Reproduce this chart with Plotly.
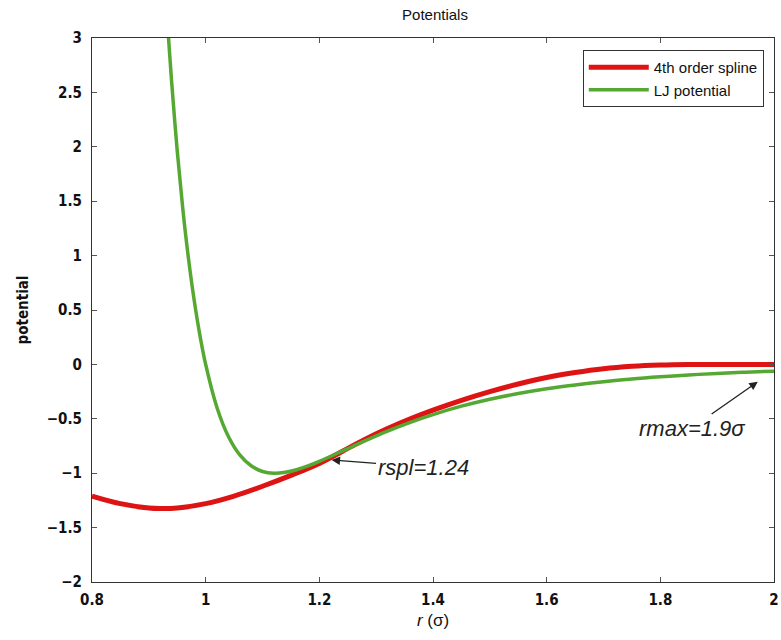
import plotly.graph_objects as go

# Lennard-Jones potential, sampled in reduced units (r in sigma, energy in epsilon)
r_lj = [0.93, 0.935, 0.94, 0.95, 0.96, 0.97, 0.98, 0.99, 1.00, 1.02, 1.04, 1.06,
        1.08, 1.10, 1.12, 1.14, 1.16, 1.18, 1.20, 1.24, 1.28, 1.32, 1.36, 1.40,
        1.45, 1.50, 1.55, 1.60, 1.65, 1.70, 1.75, 1.80, 1.85, 1.90, 1.95, 2.00]
u_lj = [3.373, 2.974, 2.607, 1.961, 1.418, 0.963, 0.582, 0.264, 0.000, -0.398,
        -0.663, -0.832, -0.932, -0.984, -1.000, -0.992, -0.968, -0.933, -0.891,
        -0.798, -0.703, -0.613, -0.532, -0.461, -0.384, -0.320, -0.268, -0.224,
        -0.189, -0.159, -0.134, -0.114, -0.097, -0.083, -0.072, -0.062]

# 4th order spline potential (joins LJ at r_spl, vanishes at r_max)
r_spl = [0.80, 0.85, 0.90, 0.92, 0.95, 1.00, 1.05, 1.10, 1.15, 1.20, 1.24, 1.28,
         1.32, 1.36, 1.40, 1.45, 1.50, 1.55, 1.60, 1.65, 1.70, 1.75, 1.80, 1.85,
         1.90, 2.00]
u_spl = [-1.21, -1.28, -1.32, -1.325, -1.32, -1.28, -1.21, -1.12, -1.02, -0.91,
         -0.80, -0.69, -0.59, -0.50, -0.42, -0.33, -0.25, -0.18, -0.12, -0.075,
         -0.04, -0.018, -0.006, -0.001, 0.0, 0.0]

x_ticks = [0.8, 1.0, 1.2, 1.4, 1.6, 1.8, 2.0]
x_ticktext = ["0.8", "1", "1.2", "1.4", "1.6", "1.8", "2"]
y_ticks = [-2, -1.5, -1, -0.5, 0, 0.5, 1, 1.5, 2, 2.5, 3]
y_ticktext = ["\u22122", "\u22121.5", "\u22121", "\u22120.5", "0", "0.5", "1",
              "1.5", "2", "2.5", "3"]

r_spl_mark = 1.24
r_max_mark = 1.9

tick_font = dict(family="Liberation Sans Narrow, DejaVu Sans Condensed, Roboto, sans-serif",
                 size=15, color="#111111", weight="bold")

fig = go.Figure()
fig.add_trace(go.Scatter(x=r_spl, y=u_spl, mode="lines", name="4th order spline",
                         line=dict(color="#de1414", width=5, shape="spline")))
fig.add_trace(go.Scatter(x=r_lj, y=u_lj, mode="lines", name="LJ potential",
                         line=dict(color="#55a832", width=3.5, shape="spline")))

ann_font = dict(family="Liberation Sans, Arial, sans-serif", size=22, color="#222222")
fig.add_annotation(x=1.2216, y=-0.879, ax=1.3825, ay=-0.943, axref="x", ayref="y",
                   xref="x", yref="y", text="<i>rspl=%.2f</i>" % r_spl_mark,
                   font=ann_font, showarrow=True, arrowhead=2, arrowsize=1.3,
                   arrowwidth=1.3, arrowcolor="#222222", standoff=0)
fig.add_annotation(x=1.9715, y=-0.16, ax=1.855, ay=-0.585, axref="x", ayref="y",
                   xref="x", yref="y", text="<i>rmax=%.1f\u03c3</i>" % r_max_mark,
                   font=ann_font, showarrow=True, arrowhead=2, arrowsize=1.3,
                   arrowwidth=1.3, arrowcolor="#222222", standoff=0)

fig.update_layout(
    width=781, height=640,
    margin=dict(l=92, r=7, t=38, b=58, autoexpand=False),
    paper_bgcolor="white", plot_bgcolor="white",
    title=dict(text="Potentials", x=0.557, xanchor="center", y=0.977, yanchor="middle",
               font=dict(family="Liberation Sans, Arial, sans-serif", size=15,
                         color="#111111")),
    legend=dict(x=0.985, xanchor="right", y=0.978, yanchor="top",
                bordercolor="#333333", borderwidth=1, bgcolor="white",
                itemwidth=60, tracegroupgap=0,
                font=dict(family="Liberation Sans, Arial, sans-serif", size=15,
                          color="#111111")),
    showlegend=True,
)

fig.update_xaxes(range=[0.8, 2.0], tickvals=x_ticks, ticktext=x_ticktext,
                 showgrid=False, zeroline=False, showline=True, mirror="ticks",
                 linecolor="#333333", linewidth=1, ticks="inside", ticklen=5,
                 tickcolor="#555555", tickfont=tick_font, ticklabelstandoff=4,
                 ticklabeloverflow="allow", automargin=False,
                 title=dict(text="<i>r</i> (\u03c3)", standoff=6,
                            font=dict(family="Liberation Sans, Arial, sans-serif",
                                      size=17, color="#111111")))
fig.update_yaxes(range=[-2, 3], tickvals=y_ticks, ticktext=y_ticktext,
                 showgrid=False, zeroline=False, showline=True, mirror="ticks",
                 linecolor="#333333", linewidth=1, ticks="inside", ticklen=5,
                 tickcolor="#555555", tickfont=tick_font, ticklabelstandoff=6,
                 ticklabeloverflow="allow", automargin=False,
                 title=dict(text="<b>potential</b>", standoff=14,
                            font=dict(family="Liberation Sans Narrow, DejaVu Sans Condensed, sans-serif",
                                      size=15, color="#111111")))

fig.write_html("out.html")
